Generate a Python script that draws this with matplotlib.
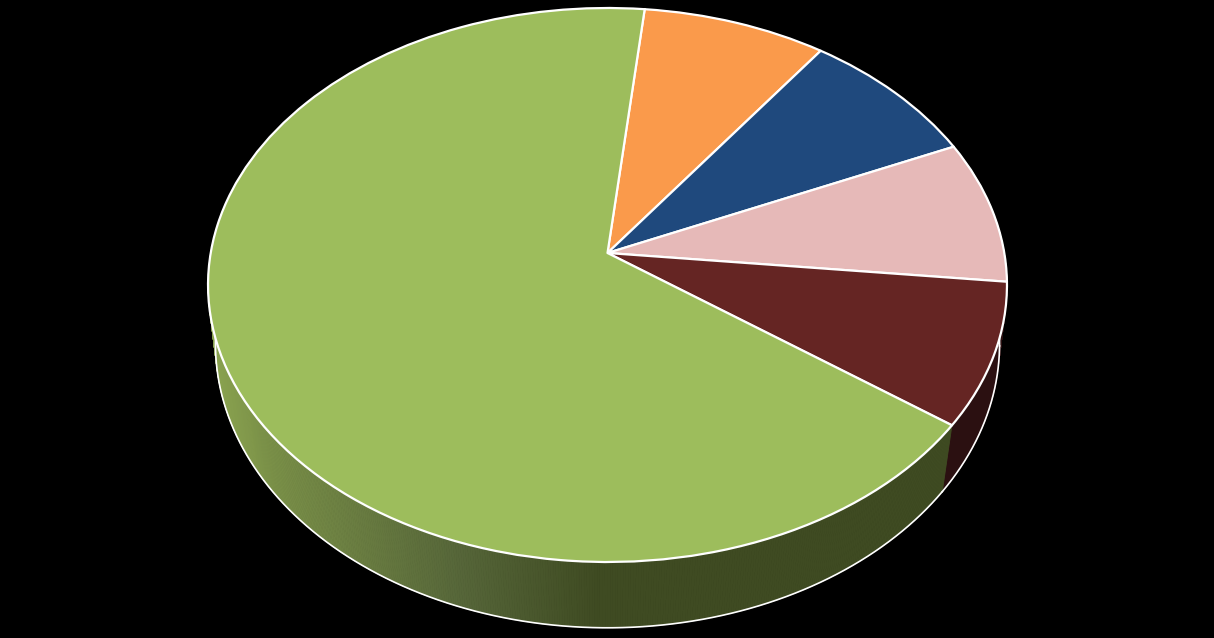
import numpy as np
import matplotlib
matplotlib.use('Agg')
import matplotlib.pyplot as plt
from matplotlib.collections import PolyCollection
from matplotlib.colors import LinearSegmentedColormap
from matplotlib.transforms import Transform

# share of each slice, clockwise from the orange one
values = [8.33, 8.33, 8.33, 8.34, 66.67]
face_colors = ['#FA9A4B', '#1F497D', '#E6B9B8', '#652523', '#9DBD5C']
side_colors = ['#7d4d26', '#10253f', '#736060', '#2B1011', '#3F4B22']
start_angle = 84


def project(x, y, bottom=False):
    # perspective view of the unit disc, top face or bottom face, gives pixels
    if bottom:
        w = 1 + 0.097 * y
        return 607.5 + 390.2 * x / w, (316.4 - 250.5 * y) / w
    w = 1 + 0.1155 * y
    return 607.5 + 396.8 * x / w, (253 - 244.08 * y) / w


class DiscProjection(Transform):
    input_dims = 2
    output_dims = 2
    is_affine = False

    def transform_non_affine(self, values):
        values = np.asarray(values)
        px, py = project(values[:, 0], values[:, 1])
        return np.column_stack([px, py])


fig = plt.figure(figsize=(12.14, 6.38), dpi=100, facecolor='black')
ax = fig.add_axes([0, 0, 1, 1], facecolor='black')

wedges, _ = ax.pie(values, colors=face_colors, startangle=start_angle, counterclock=False,
                   wedgeprops={'edgecolor': 'white', 'linewidth': 1.6, 'joinstyle': 'round', 'zorder': 5})
for wedge in wedges:
    wedge.set_transform(DiscProjection() + ax.transData)

ax.set_aspect('auto')
ax.set_xlim(0, 1214)
ax.set_ylim(638, 0)
ax.axis('off')

# side wall of the green slice fades from olive on the left to dark on the right
wall_cmap = LinearSegmentedColormap.from_list('wall', [(0, '#8AA34F'), (0.12, '#7A9048'), (0.5, '#566639'),
                                                       (0.78, '#3F4B22'), (1, '#3F4B22')])

for wedge, side in zip(wedges, side_colors):
    angles = np.radians(np.linspace(wedge.theta1, wedge.theta2, 721))
    tx, ty = project(np.cos(angles), np.sin(angles))
    bx, by = project(np.cos(angles), np.sin(angles), bottom=True)
    quads = [[(tx[i], ty[i]), (tx[i + 1], ty[i + 1]), (bx[i + 1], by[i + 1]), (bx[i], by[i])]
             for i in range(len(angles) - 1)]
    if wedge is wedges[-1]:
        mid_x = (tx[:-1] + tx[1:]) / 2
        colors = wall_cmap(np.clip((mid_x - 208) / 500, 0, 1))
    else:
        colors = side
    ax.add_collection(PolyCollection(quads, facecolors=colors, edgecolors=colors, linewidths=0.6, zorder=2))
    # outline along the bottom rim
    ax.plot(bx, by, color='white', lw=1.2, zorder=3)

# edge between the two visible walls
a = np.radians(wedges[-1].theta1)
x0, y0 = project(np.cos(a), np.sin(a))
x1, y1 = project(np.cos(a), np.sin(a), bottom=True)
ax.plot([x0, x1], [y0, y1], color='white', lw=1.3, zorder=4)

fig.savefig('out.png', dpi=100, facecolor='black')
